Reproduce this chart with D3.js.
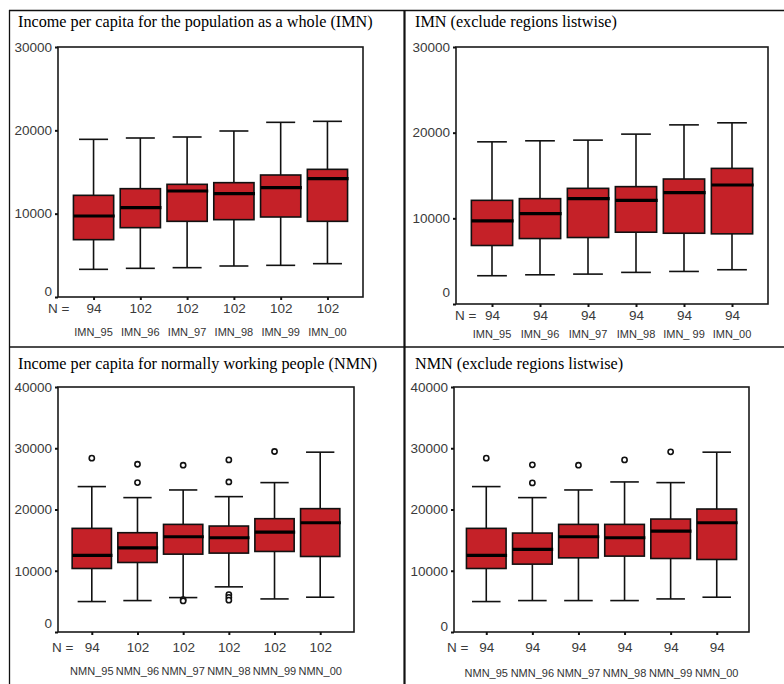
<!DOCTYPE html>
<html>
<head>
<meta charset="utf-8">
<script src="https://cdn.jsdelivr.net/npm/d3@7"></script>
<style>
  html, body { margin: 0; padding: 0; background: #fff; }
  svg { display: block; }
</style>
</head>
<body>
<svg id="chart" width="784" height="684"></svg>
<script>
// ---- categories ----
const imnCats     = ["IMN_95", "IMN_96", "IMN_97", "IMN_98", "IMN_99", "IMN_00"];
const imnListCats = ["IMN_95", "IMN_96", "IMN_97", "IMN_98", "IMN_ 99", "IMN_00"];
const nmnCats     = ["NMN_95", "NMN_96", "NMN_97", "NMN_98", "NMN_99", "NMN_00"];

// ---- IMN, all regions ----
const imnAllLow  = [3320, 3440, 3520, 3720, 3800, 4000];
const imnAllQ1   = [6880, 8320, 9080, 9280, 9600, 9080];
const imnAllMed  = [9720, 10720, 12720, 12400, 13120, 14200];
const imnAllQ3   = [12200, 13000, 13520, 13720, 14640, 15320];
const imnAllHigh = [18920, 19080, 19200, 19920, 20960, 21080];
const imnAllN    = [94, 102, 102, 102, 102, 102];
const imnAllOut  = [[], [], [], [], [], []];

// ---- IMN, regions excluded listwise ----
const imnListLow  = [3300, 3410, 3490, 3690, 3800, 4000];
const imnListQ1   = [6830, 7640, 7760, 8380, 8260, 8190];
const imnListMed  = [9700, 10550, 12300, 12100, 13000, 13890];
const imnListQ3   = [12100, 12300, 13500, 13700, 14590, 15830];
const imnListHigh = [18930, 19050, 19130, 19830, 20910, 21150];
const imnListN    = [94, 94, 94, 94, 94, 94];
const imnListOut  = [[], [], [], [], [], []];

// ---- NMN, all regions ----
const nmnAllLow  = [4970, 5130, 5620, 7370, 5400, 5680];
const nmnAllQ1   = [10370, 11350, 12710, 12880, 13150, 12330];
const nmnAllMed  = [12500, 13750, 15550, 15390, 16320, 17840];
const nmnAllQ3   = [16920, 16210, 17570, 17300, 18500, 20140];
const nmnAllHigh = [23740, 21940, 23190, 22100, 24390, 29360];
const nmnAllN    = [94, 102, 102, 102, 102, 102];
const nmnAllOut  = [[28380], [27390, 24390], [27230, 5290, 5075], [28100, 24500, 6100, 5650, 5200], [29470], []];

// ---- NMN, regions excluded listwise ----
const nmnListLow  = [4970, 5130, 5130, 5130, 5400, 5680];
const nmnListQ1   = [10370, 11080, 12110, 12390, 12000, 11840];
const nmnListMed  = [12500, 13480, 15550, 15390, 16480, 17840];
const nmnListQ3   = [16920, 16150, 17570, 17570, 18440, 20080];
const nmnListHigh = [23740, 21940, 23190, 24500, 24390, 29360];
const nmnListN    = [94, 94, 94, 94, 94, 94];
const nmnListOut  = [[28380], [27290, 24340], [27230], [28100], [29410], []];

// ---- tick values ----
const ticks30 = [0, 10000, 20000, 30000];
const ticks40 = [0, 10000, 20000, 30000, 40000];

// ---- titles ----
const titles = [
  "Income per capita for the population as a whole (IMN)",
  "IMN (exclude regions listwise)",
  "Income per capita for normally working people (NMN)",
  "NMN (exclude regions listwise)"
];

const series = [
  { cats: imnCats,     low: imnAllLow,  q1: imnAllQ1,  med: imnAllMed,  q3: imnAllQ3,  high: imnAllHigh,  n: imnAllN,  out: imnAllOut,  ticks: ticks30 },
  { cats: imnListCats, low: imnListLow, q1: imnListQ1, med: imnListMed, q3: imnListQ3, high: imnListHigh, n: imnListN, out: imnListOut, ticks: ticks30 },
  { cats: nmnCats,     low: nmnAllLow,  q1: nmnAllQ1,  med: nmnAllMed,  q3: nmnAllQ3,  high: nmnAllHigh,  n: nmnAllN,  out: nmnAllOut,  ticks: ticks40 },
  { cats: nmnCats,     low: nmnListLow, q1: nmnListQ1, med: nmnListMed, q3: nmnListQ3, high: nmnListHigh, n: nmnListN, out: nmnListOut, ticks: ticks40 }
];

// panel frames: plot rectangle, title anchor, label rows, lift of the zero label
const layout = [
  { left: 58,  right: 363, top: 47,  bottom: 297, tx: 18,  ty: 27,  nx: 48,  ny: 313, cy: 336, pad: 0.76, zeroLift: 6 },
  { left: 456, right: 768, top: 47,  bottom: 304, tx: 415, ty: 27,  nx: 455, ny: 320, cy: 338, pad: 0.75, zeroLift: 12 },
  { left: 58,  right: 354, top: 387, bottom: 632, tx: 18,  ty: 369, nx: 52,  ny: 652, cy: 675, pad: 0.74, zeroLift: 9 },
  { left: 454, right: 749, top: 387, bottom: 632, tx: 415, ty: 369, nx: 447, ny: 652, cy: 677, pad: 0.70, zeroLift: 6 }
];

const RED = "#c52128";
const svg = d3.select("#chart");

// outer page frame lines
const frame = svg.append("g").attr("stroke", "#111").attr("fill", "none");
frame.append("line").attr("x1", 9).attr("x2", 784).attr("y1", 10.5).attr("y2", 10.5).attr("stroke-width", 1.3);
frame.append("line").attr("x1", 9.5).attr("x2", 9.5).attr("y1", 10).attr("y2", 684).attr("stroke-width", 1.3);
frame.append("line").attr("x1", 9).attr("x2", 784).attr("y1", 347).attr("y2", 347).attr("stroke-width", 1.3);
frame.append("line").attr("x1", 404.5).attr("x2", 404.5).attr("y1", 10).attr("y2", 684).attr("stroke-width", 2.2);

series.forEach((s, i) => {
  const L = layout[i];
  const g = svg.append("g");

  const y = d3.scaleLinear()
    .domain([0, d3.max(s.ticks)])
    .range([L.bottom, L.top]);
  const x = d3.scalePoint()
    .domain(s.cats)
    .range([L.left, L.right])
    .padding(L.pad);
  const step = x.step();
  const boxW = step * 0.86;
  const capW = step * 0.62;

  // title
  g.append("text")
    .attr("x", L.tx).attr("y", L.ty)
    .attr("font-family", "'Liberation Serif', 'Times New Roman', serif")
    .attr("font-size", 16.2)
    .attr("fill", "#000")
    .text(titles[i]);

  // plot frame
  g.append("rect")
    .attr("x", L.left).attr("y", L.top)
    .attr("width", L.right - L.left).attr("height", L.bottom - L.top)
    .attr("fill", "none").attr("stroke", "#1a1a1a").attr("stroke-width", 1.6);

  // y axis
  const ya = g.append("g")
    .attr("transform", `translate(${L.left},0)`)
    .call(d3.axisLeft(y).tickValues(s.ticks).tickSize(3).tickPadding(3).tickFormat(d3.format("d")));
  ya.select(".domain").remove();
  ya.selectAll(".tick line").attr("stroke", "#111").attr("stroke-width", 2);
  ya.selectAll(".tick text")
    .attr("font-family", "'Liberation Sans', Arial, sans-serif")
    .attr("font-size", 13.5)
    .attr("fill", "#3a3a3a")
    .attr("y", d => d === 0 ? -L.zeroLift : 0);

  // x axis with N counts
  const xa = g.append("g")
    .attr("transform", `translate(0,${L.bottom})`)
    .call(d3.axisBottom(x).tickSize(3).tickPadding(6).tickFormat((d, j) => s.n[j]));
  xa.select(".domain").remove();
  xa.selectAll(".tick line").attr("stroke", "#111").attr("stroke-width", 2);
  xa.selectAll(".tick text")
    .attr("font-family", "'Liberation Sans', Arial, sans-serif")
    .attr("font-size", 13.5)
    .attr("fill", "#3a3a3a")
    .attr("dy", null)
    .attr("y", L.ny - L.bottom);

  g.append("text")
    .attr("x", L.nx).attr("y", L.ny)
    .attr("font-family", "'Liberation Sans', Arial, sans-serif")
    .attr("font-size", 13.5)
    .attr("fill", "#3a3a3a")
    .text("N =");

  // category names
  g.selectAll("text.cat").data(s.cats).join("text")
    .attr("class", "cat")
    .attr("x", d => x(d))
    .attr("y", L.cy)
    .attr("text-anchor", "middle")
    .attr("font-family", "'Liberation Sans', Arial, sans-serif")
    .attr("font-size", 11)
    .attr("fill", "#333")
    .text(d => d);

  // boxes
  const bx = g.selectAll("g.box").data(s.cats).join("g").attr("class", "box");
  // whiskers
  bx.append("line")
    .attr("x1", d => x(d)).attr("x2", d => x(d))
    .attr("y1", (d, j) => y(s.high[j])).attr("y2", (d, j) => y(s.q3[j]))
    .attr("stroke", "#111").attr("stroke-width", 1.6);
  bx.append("line")
    .attr("x1", d => x(d)).attr("x2", d => x(d))
    .attr("y1", (d, j) => y(s.q1[j])).attr("y2", (d, j) => y(s.low[j]))
    .attr("stroke", "#111").attr("stroke-width", 1.6);
  // caps
  bx.append("line")
    .attr("x1", d => x(d) - capW / 2).attr("x2", d => x(d) + capW / 2)
    .attr("y1", (d, j) => y(s.high[j])).attr("y2", (d, j) => y(s.high[j]))
    .attr("stroke", "#111").attr("stroke-width", 1.6);
  bx.append("line")
    .attr("x1", d => x(d) - capW / 2).attr("x2", d => x(d) + capW / 2)
    .attr("y1", (d, j) => y(s.low[j])).attr("y2", (d, j) => y(s.low[j]))
    .attr("stroke", "#111").attr("stroke-width", 1.6);
  // box body
  bx.append("rect")
    .attr("x", d => x(d) - boxW / 2)
    .attr("width", boxW)
    .attr("y", (d, j) => y(s.q3[j]))
    .attr("height", (d, j) => y(s.q1[j]) - y(s.q3[j]))
    .attr("fill", RED).attr("stroke", "#111").attr("stroke-width", 1.6);
  // median
  bx.append("line")
    .attr("x1", d => x(d) - boxW / 2).attr("x2", d => x(d) + boxW / 2 + 1)
    .attr("y1", (d, j) => y(s.med[j])).attr("y2", (d, j) => y(s.med[j]))
    .attr("stroke", "#000").attr("stroke-width", 3.2);
  // outliers
  bx.each(function (d, j) {
    d3.select(this).selectAll("circle").data(s.out[j]).join("circle")
      .attr("cx", x(d)).attr("cy", v => y(v)).attr("r", 2.6)
      .attr("fill", "#fff").attr("stroke", "#111").attr("stroke-width", 1.6);
  });
});
</script>
</body>
</html>
